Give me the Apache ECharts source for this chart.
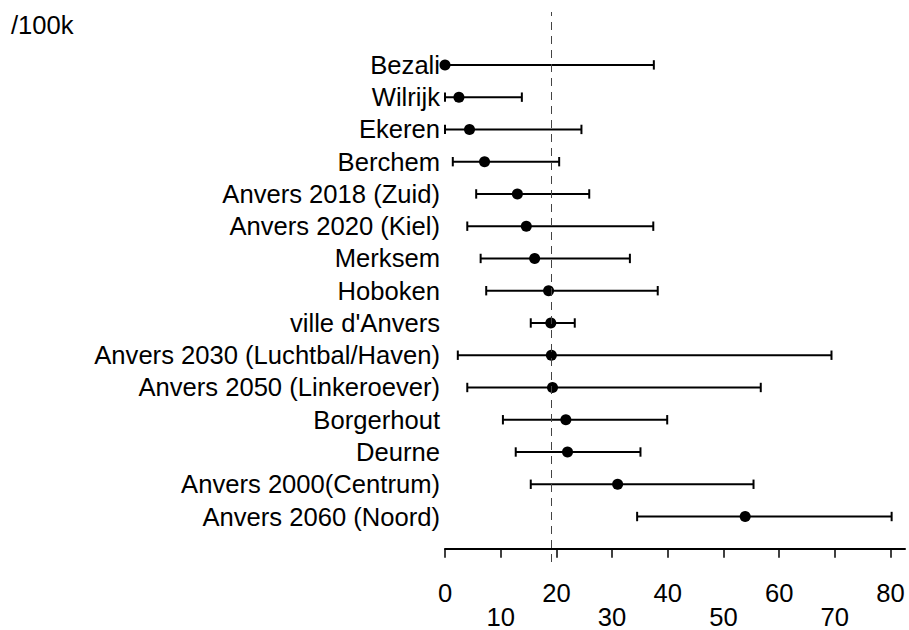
<!DOCTYPE html>
<html>
<head>
<meta charset="utf-8">
<script src="https://cdn.jsdelivr.net/npm/echarts@6/dist/echarts.min.js"></script>
<style>
html,body{margin:0;padding:0;background:#fff;}
#chart{width:909px;height:630px;}
</style>
</head>
<body>
<div id="chart"></div>
<script>
// ---- data ----
const names = [
  "Bezali", "Wilrijk", "Ekeren", "Berchem", "Anvers 2018 (Zuid)",
  "Anvers 2020 (Kiel)", "Merksem", "Hoboken", "ville d'Anvers",
  "Anvers 2030 (Luchtbal/Haven)", "Anvers 2050 (Linkeroever)", "Borgerhout",
  "Deurne", "Anvers 2000(Centrum)", "Anvers 2060 (Noord)"
];
const estimate = [0, 2.5, 4.4, 7.1, 13.0, 14.6, 16.1, 18.6, 19.0, 19.1, 19.3, 21.7, 22.0, 31.0, 53.9];
const lower    = [0, 0, 0, 1.4, 5.6, 4.0, 6.4, 7.4, 15.4, 2.3, 4.0, 10.4, 12.7, 15.4, 34.5];
const upper    = [37.5, 13.8, 24.5, 20.5, 25.9, 37.4, 33.2, 38.2, 23.3, 69.4, 56.7, 39.9, 35.1, 55.4, 80.2];
const referenceValue = 19;
const xTicks = [0, 10, 20, 30, 40, 50, 60, 70, 80];
const unitLabel = "/100k";

// ---- build ----
const n = names.length;
const positions = names.map((_, i) => n - i);
const barData = names.map((_, i) => [lower[i], upper[i], positions[i]]);
const pointData = names.map((_, i) => [estimate[i], positions[i]]);
const FONT = '"Liberation Sans", Arial, sans-serif';
const FS = 25.6;

const chart = echarts.init(document.getElementById('chart'), null, {renderer: 'svg'});
chart.setOption({
  animation: false,
  backgroundColor: '#ffffff',
  graphic: [{
    type: 'text', left: 11, top: 12,
    style: {text: unitLabel, fontSize: FS, fontFamily: FONT, fill: '#000'}
  }],
  grid: {left: 445, right: 4, top: 12, bottom: 66, containLabel: false},
  xAxis: {
    type: 'value', min: 0, max: 82.6, interval: 10,
    splitLine: {show: false},
    axisLine: {show: true, lineStyle: {color: '#000', width: 2}},
    axisTick: {show: true, length: 9, lineStyle: {color: '#000', width: 1.5}, customValues: xTicks},
    axisLabel: {
      customValues: xTicks,
      margin: 19,
      fontSize: FS, fontFamily: FONT, color: '#000', lineHeight: 24,
      formatter: v => (v % 20 === 0 ? String(v) : '\n' + v)
    }
  },
  yAxis: {
    type: 'value', min: -0.41, max: 16.64,
    splitLine: {show: false},
    axisLine: {show: false},
    axisTick: {show: false},
    axisLabel: {
      customValues: positions,
      margin: 5,
      fontSize: FS, fontFamily: FONT, color: '#000',
      formatter: v => names[n - Math.round(v)] || ''
    }
  },
  series: [
    {
      type: 'custom',
      data: barData,
      encode: {x: [0, 1], y: 2},
      renderItem: function (params, api) {
        const p = api.value(2);
        const a = api.coord([api.value(0), p]);
        const b = api.coord([api.value(1), p]);
        const h = 4.7;
        const st = {stroke: '#000', lineWidth: 2};
        return {
          type: 'group',
          children: [
            {type: 'line', shape: {x1: a[0], y1: a[1], x2: b[0], y2: b[1]}, style: st},
            {type: 'line', shape: {x1: a[0], y1: a[1] - h, x2: a[0], y2: a[1] + h}, style: st},
            {type: 'line', shape: {x1: b[0], y1: b[1] - h, x2: b[0], y2: b[1] + h}, style: st}
          ]
        };
      },
      z: 2
    },
    {
      type: 'scatter',
      data: pointData,
      symbol: 'circle',
      symbolSize: 11,
      itemStyle: {color: '#000', opacity: 1},
      z: 3,
      markLine: {
        silent: true,
        symbol: ['none', 'none'],
        label: {show: false},
        lineStyle: {color: '#444', width: 1, type: [8, 6], opacity: 1},
        data: [{xAxis: referenceValue}]
      }
    }
  ]
});
</script>
</body>
</html>
